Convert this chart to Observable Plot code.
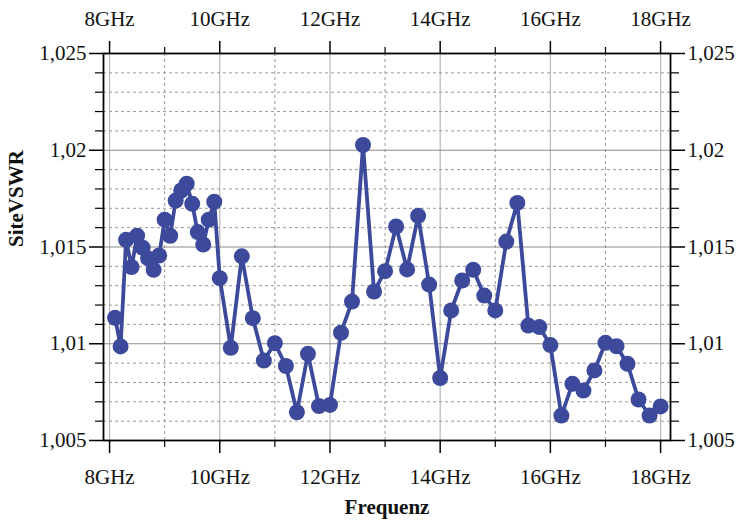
<!DOCTYPE html>
<html>
<head>
<meta charset="utf-8">
<script src="https://cdn.jsdelivr.net/npm/d3@7"></script>
<script src="https://cdn.jsdelivr.net/npm/@observablehq/plot@0.6"></script>
<style>
  html, body { margin: 0; padding: 0; background: #fff; }
  #chart svg { display: block; }
</style>
</head>
<body>
<div id="chart"></div>
<script>
// Frequencies in GHz
const freq = [
  8.1, 8.2, 8.3, 8.4, 8.5, 8.6, 8.7, 8.8, 8.9, 9.0,
  9.1, 9.2, 9.3, 9.4, 9.5, 9.6, 9.7, 9.8, 9.9, 10.0,
  10.2, 10.4, 10.6, 10.8, 11.0, 11.2, 11.4, 11.6, 11.8, 12.0,
  12.2, 12.4, 12.6, 12.8, 13.0, 13.2, 13.4, 13.6, 13.8, 14.0,
  14.2, 14.4, 14.6, 14.8, 15.0, 15.2, 15.4, 15.6, 15.8, 16.0,
  16.2, 16.4, 16.6, 16.8, 17.0, 17.2, 17.4, 17.6, 17.8, 18.0
];
// Site VSWR values
const vswr = [
  1.01134, 1.00986, 1.01537, 1.01396, 1.01558, 1.01496, 1.01441, 1.01382, 1.01456, 1.01641,
  1.01558, 1.01740, 1.01792, 1.01827, 1.01723, 1.01577, 1.01513, 1.01641, 1.01734, 1.01339,
  1.00979, 1.01452, 1.01132, 1.00913, 1.01003, 1.00885, 1.00646, 1.00948, 1.00678, 1.00684,
  1.01057, 1.01218, 1.02027, 1.01270, 1.01375, 1.01606, 1.01384, 1.01661, 1.01306, 1.00823,
  1.01172, 1.01327, 1.01382, 1.01249, 1.01172, 1.01528, 1.01728, 1.01094, 1.01086, 1.00993,
  1.00629, 1.00793, 1.00758, 1.00862, 1.01005, 1.00987, 1.00896, 1.00712, 1.00629, 1.00676
];
const xMajor = [8, 10, 12, 14, 16, 18];
const xMajorLabels = ["8GHz", "10GHz", "12GHz", "14GHz", "16GHz", "18GHz"];
const xMinor = [9, 11, 13, 15, 17];
const yMajor = [1.005, 1.01, 1.015, 1.02, 1.025];
const yMajorLabels = ["1,005", "1,01", "1,015", "1,02", "1,025"];
const yMinor = [1.006, 1.007, 1.008, 1.009, 1.011, 1.012, 1.013, 1.014,
                1.016, 1.017, 1.018, 1.019, 1.021, 1.022, 1.023, 1.024];
const xTitle = "Frequenz";
const yTitle = "SiteVSWR";

const data = freq.map((f, i) => ({f, v: vswr[i]}));
const color = "#3d4a9b";
const font = "'Liberation Serif', 'DejaVu Serif', serif";
const xFmt = d => xMajorLabels[xMajor.indexOf(d)];
const yFmt = d => yMajorLabels[yMajor.indexOf(d)];
const none = () => "";

const chart = Plot.plot({
  width: 744,
  height: 520,
  marginLeft: 103,
  marginRight: 74,
  marginTop: 53,
  marginBottom: 80,
  style: {fontFamily: font, fontSize: "21px", color: "#111", background: "#fff"},
  x: {type: "linear", domain: [7.89, 18.18], label: null},
  y: {type: "linear", domain: [1.005, 1.025], label: null},
  marks: [
    // grid
    Plot.gridX(xMajor, {stroke: "#b8b8b8", strokeOpacity: 1, strokeWidth: 1.2}),
    Plot.gridX(xMinor, {stroke: "#999", strokeOpacity: 1, strokeDasharray: "3,3"}),
    Plot.gridY(yMajor, {stroke: "#8c8c8c", strokeOpacity: 1, strokeWidth: 1.2}),
    Plot.gridY(yMinor, {stroke: "#999", strokeOpacity: 1, strokeDasharray: "3,3"}),
    // axes
    Plot.axisX(xMajor, {anchor: "top", tickSize: 13, tickPadding: 15, tickFormat: xFmt, label: null, stroke: "#000", strokeWidth: 1.5}),
    Plot.axisX(xMajor, {anchor: "bottom", tickSize: 13, tickPadding: 16, tickFormat: xFmt, label: null, stroke: "#000", strokeWidth: 1.5}),
    Plot.axisX(xMinor, {anchor: "top", tickSize: 7, tickFormat: none, label: null, stroke: "#000", strokeWidth: 1.2}),
    Plot.axisX(xMinor, {anchor: "bottom", tickSize: 7, tickFormat: none, label: null, stroke: "#000", strokeWidth: 1.2}),
    Plot.axisY(yMajor, {anchor: "left", tickSize: 14, tickPadding: 3, tickFormat: yFmt, label: null, stroke: "#000", strokeWidth: 1.5}),
    Plot.axisY(yMajor, {anchor: "right", tickSize: 14, tickPadding: 3, tickFormat: yFmt, label: null, stroke: "#000", strokeWidth: 1.5}),
    Plot.axisY(yMinor, {anchor: "left", tickSize: 8, tickFormat: none, label: null, stroke: "#000", strokeWidth: 1.2}),
    Plot.axisY(yMinor, {anchor: "right", tickSize: 8, tickFormat: none, label: null, stroke: "#000", strokeWidth: 1.2}),
    Plot.frame({stroke: "#000", strokeWidth: 1.8}),
    // data
    Plot.line(data, {x: "f", y: "v", stroke: color, strokeWidth: 3.8}),
    Plot.dot(data, {x: "f", y: "v", r: 8, fill: color, stroke: "none"}),
    // titles
    Plot.text([xTitle], {frameAnchor: "bottom", dy: 73, fontWeight: "bold", fontSize: 21, fill: "#111"}),
    Plot.text([yTitle], {frameAnchor: "left", dx: -87, rotate: -90, fontWeight: "bold", fontSize: 21, fill: "#111"})
  ]
});
document.getElementById("chart").appendChild(chart);
</script>
</body>
</html>
